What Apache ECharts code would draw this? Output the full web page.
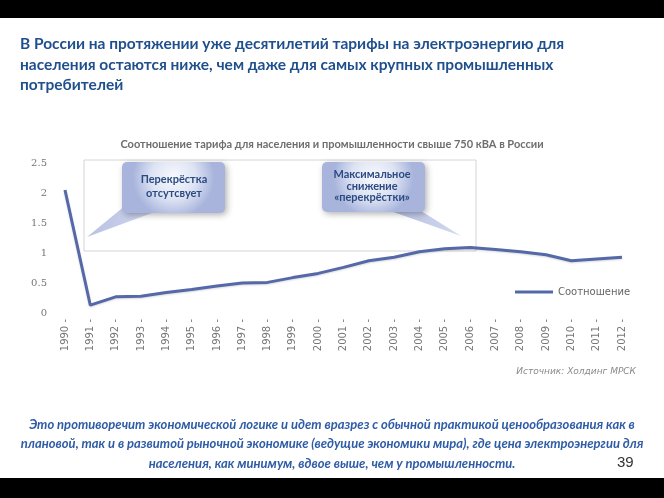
<!DOCTYPE html>
<html><head><meta charset="utf-8">
<script src="https://cdn.jsdelivr.net/npm/echarts@6/dist/echarts.min.js"></script>
<style>html,body{margin:0;padding:0;background:#fff}#c{width:664px;height:498px}</style>
</head><body><div id="c"></div>
<script>
var years = ['1990','1991','1992','1993','1994','1995','1996','1997','1998','1999','2000','2001','2002','2003','2004','2005','2006','2007','2008','2009','2010','2011','2012'];
var ratio = [2.05,0.13,0.27,0.28,0.34,0.39,0.45,0.50,0.51,0.59,0.66,0.76,0.87,0.93,1.02,1.07,1.09,1.06,1.02,0.97,0.87,0.90,0.93];
var yTicks = [0,0.5,1,1.5,2,2.5];
var seriesName = 'Соотношение';

var chart = echarts.init(document.getElementById('c'));
var blueTxt = '#1f4f8c';
function bubbleFill(){return new echarts.graphic.RadialGradient(0.5,0.3,0.8,[{offset:0,color:'#f8f9fd'},{offset:0.55,color:'#dde3f3'},{offset:1,color:'#a8b4dc'}]);}
function tailFill(){return new echarts.graphic.LinearGradient(0,0,1,1,[{offset:0,color:'#b3bde0'},{offset:1,color:'#d3d9ef'}]);}
chart.setOption({
  backgroundColor:'#fff',
  animation:false,
  title:{text:'Соотношение тарифа для населения и промышленности свыше 750 кВА в России',left:'center',top:134,
    textStyle:{fontFamily:'Lato',fontSize:11,fontWeight:'bold',color:'#6e6e6e'}},
  grid:{left:65,right:42,top:163,bottom:185,containLabel:false},
  legend:{data:[seriesName],left:510,top:282,icon:'rect',itemWidth:38,itemHeight:3,itemGap:9,
    textStyle:{fontFamily:'DejaVu Sans',fontSize:10,color:'#666'}},
  xAxis:{type:'category',data:years,boundaryGap:false,
    axisLine:{show:false},axisTick:{show:false},
    axisLabel:{rotate:90,interval:0,margin:6,fontFamily:'DejaVu Sans',fontSize:10,color:'#777',
      formatter:function(v){return v+' -';}}},
  yAxis:{type:'value',min:0,max:2.5,interval:0.5,
    axisLine:{show:false},axisTick:{show:false},splitLine:{show:false},
    axisLabel:{margin:18,fontFamily:'DejaVu Serif',fontSize:10,color:'#777',
      formatter:function(v){return yTicks.indexOf(v)>=0?String(v):'';}}},
  series:[{name:seriesName,type:'line',data:ratio,showSymbol:false,smooth:false,
    lineStyle:{color:'#5568a8',width:3,shadowColor:'rgba(0,0,0,0.15)',shadowBlur:2,shadowOffsetY:1},
    itemStyle:{color:'#5568a8'}}],
  graphic:[
    {type:'rect',z:-1,shape:{x:0,y:0,width:664,height:18},style:{fill:'#000'}},
    {type:'rect',shape:{x:0,y:478,width:664,height:20},style:{fill:'#000'}},
    {type:'text',left:20,top:34,style:{text:'В России на протяжении уже десятилетий тарифы на электроэнергию для\nнаселения остаются ниже, чем даже для самых крупных промышленных\nпотребителей',
      font:'bold 15.5px Lato',fill:blueTxt,lineHeight:20.5}},
    {type:'rect',z:1,shape:{x:84,y:160,width:392,height:91},style:{fill:'#fff',stroke:'#d4d4d4',lineWidth:1}},
    {type:'polygon',z:2,shape:{points:[[126,205],[152,213],[87,237]]},style:{fill:tailFill()}},
    {type:'rect',z:3,shape:{x:122,y:162,width:103,height:51,r:5},style:{fill:bubbleFill(),shadowColor:'rgba(0,0,0,0.3)',shadowBlur:6,shadowOffsetX:2,shadowOffsetY:2}},
    {type:'text',z:4,x:174,y:186,style:{text:'Перекрёстка\nотсутсвует',font:'bold 11px Lato',fill:'#2b4a82',align:'center',verticalAlign:'middle',lineHeight:14}},
    {type:'polygon',z:2,shape:{points:[[385,209],[418,209],[461,236]]},style:{fill:tailFill()}},
    {type:'rect',z:3,shape:{x:322,y:162,width:103,height:50,r:5},style:{fill:bubbleFill(),shadowColor:'rgba(0,0,0,0.3)',shadowBlur:6,shadowOffsetX:2,shadowOffsetY:2}},
    {type:'text',z:4,x:372,y:186,style:{text:'Максимальное\nснижение\n«перекрёстки»',font:'bold 11px Lato',fill:'#2b4a82',align:'center',verticalAlign:'middle',lineHeight:11.5}},
    {type:'text',right:28,top:367,style:{text:'Источник: Холдинг МРСК',font:'italic 9px "DejaVu Sans"',fill:'#8a8a8a'}},
    {type:'text',x:332,y:444,style:{text:'Это противоречит экономической логике и идет вразрез с обычной практикой ценообразования как в\nплановой, так и в развитой рыночной экономике (ведущие экономики мира), где цена электроэнергии для\nнаселения, как минимум, вдвое выше, чем у промышленности.',
      font:'italic bold 13px Lato',fill:'#2f5ca6',align:'center',verticalAlign:'middle',lineHeight:19.5}},
    {type:'text',left:617,top:455,style:{text:'39',font:'15px "Liberation Sans"',fill:'#333'}}
  ]
});
</script></body></html>
